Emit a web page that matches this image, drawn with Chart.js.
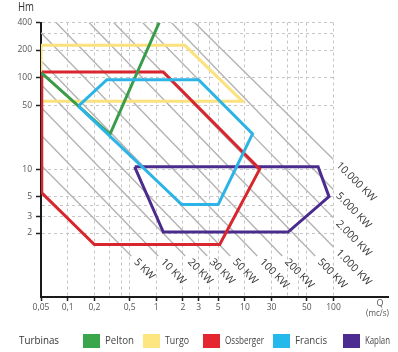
<!DOCTYPE html>
<html><head><meta charset="utf-8">
<script src="https://cdn.jsdelivr.net/npm/chart.js@4.4.1/dist/chart.umd.min.js"></script>
<style>html,body{margin:0;padding:0;background:#fff;}#wrap{position:relative;width:398px;height:352px;}</style>
</head><body><div id="wrap"><canvas id="c" width="398" height="352"></canvas></div>
<script>
// ---- data (Q in m3/s, H in m) ----
const turbineNames = ['Pelton', 'Turgo', 'Ossberger', 'Francis', 'Kaplan'];
const peltonQ = [0.051, 0.30, 1.08];
const peltonH = [112, 24, 400];
const turgoQ = [0.05, 2.1, 9.4, 0.05];
const turgoH = [225, 225, 55, 55];
const ossbergerQ = [0.051, 1.2, 14.7, 5.2, 0.2, 0.051];
const ossbergerH = [115, 115, 10, 1.5, 1.5, 5.5];
const francisQ = [0.132, 0.277, 3.0, 12.2, 5.0, 1.94];
const francisH = [48.7, 95, 95, 24.3, 4.1, 4.1];
const kaplanQ = [0.57, 1.2, 30.7, 89, 67];
const kaplanH = [10.6, 2.05, 2.05, 5.0, 10.6];

const xTickValues = [0.05, 0.1, 0.2, 0.3, 0.4, 0.5, 1, 2, 3, 4, 5, 10, 20, 30, 40, 50, 100];
const xTickLabels = ['0,05', '0,1', '0,2', '', '', '0,5', '1', '2', '3', '', '5', '10', '30', '', '', '50', '100'];
const yTickValues = [2, 3, 4, 5, 10, 50, 100, 200, 300, 400];
const yTickLabels = ['2', '3', '', '5', '10', '50', '100', '200', '', '400'];

const powerLabels = ['5 KW', '10 KW', '20 KW', '30 KW', '50 KW', '100 KW', '200 KW', '500 KW', '1.000 KW', '2.000 KW', '5.000 KW', '10.000 KW'];
const powerStartQ = [0.05, 0.05, 0.05, 0.05, 0.05, 0.05, 0.074, 0.174, 0.33, 0.70, 1.48, 2.7];
const powerStartH = [11, 23.6, 47.5, 84, 153, 310, 400, 400, 400, 400, 400, 400];
const powerEndQ = [0.522, 1.052, 2.12, 3.76, 6.83, 13.8, 26.4, 62.2, 100, 100, 100, 100];
const powerEndH = [1.12, 1.12, 1.12, 1.12, 1.12, 1.12, 1.12, 1.12, 1.41, 2.93, 5.94, 12.7];

// ---- styles ----
const turbineColors = ['#3a9c4a', '#fbe27e', '#d8262e', '#2cb4e6', '#4b2c8e'];
const legendColors = ['#3aa64c', '#fde580', '#e3262f', '#25b8ea', '#4c2c91'];
const FONT = "'Open Sans', 'DejaVu Sans', sans-serif";

function pts(qs, hs, close) {
  const a = qs.map((q, i) => ({ x: q, y: hs[i] }));
  if (close) a.push({ x: qs[0], y: hs[0] });
  return a;
}
const turbineData = [
  pts(peltonQ, peltonH, false),
  pts(turgoQ, turgoH, true),
  pts(ossbergerQ, ossbergerH, true),
  pts(francisQ, francisH, true),
  pts(kaplanQ, kaplanH, true)
];
// draw order (first = on top)
const drawOrder = [3, 0, 2, 4, 1];
const datasets = [];
drawOrder.forEach(i => {
  datasets.push({
    label: turbineNames[i], data: turbineData[i], showLine: true,
    borderColor: turbineColors[i], backgroundColor: turbineColors[i],
    borderWidth: 3, pointRadius: 0, fill: false, tension: 0,
    borderJoinStyle: 'miter', borderCapStyle: 'butt'
  });
});
powerLabels.forEach((lab, i) => {
  datasets.push({
    label: lab, data: [{ x: powerStartQ[i], y: powerStartH[i] }, { x: powerEndQ[i], y: powerEndH[i] }],
    showLine: true, borderColor: '#b3b3b3', borderWidth: 1.4, pointRadius: 0, fill: false, isPower: true
  });
});

const decor = {
  id: 'decor',
  afterDatasetsDraw(chart) {
    const ctx = chart.ctx, xs = chart.scales.x, ys = chart.scales.y;
    ctx.save();
    ctx.fillStyle = '#333';
    ctx.font = '10.5px ' + FONT;
    ctx.textAlign = 'left'; ctx.textBaseline = 'middle';
    powerLabels.forEach((lab, i) => {
      const x0 = xs.getPixelForValue(powerStartQ[i]), y0 = ys.getPixelForValue(powerStartH[i]);
      const x1 = xs.getPixelForValue(powerEndQ[i]), y1 = ys.getPixelForValue(powerEndH[i]);
      const ang = Math.atan2(y1 - y0, x1 - x0);
      ctx.save();
      ctx.translate(x1 + Math.cos(ang) * 6, y1 + Math.sin(ang) * 6);
      ctx.rotate(ang);
      ctx.fillText(lab, 0, 0);
      ctx.restore();
    });
    ctx.restore();
  },
  afterDraw(chart) {
    const ctx = chart.ctx, area = chart.chartArea;
    ctx.save();
    // x-axis extension
    ctx.strokeStyle = '#1a1a1a'; ctx.lineWidth = 2;
    ctx.beginPath(); ctx.moveTo(area.right - 1, area.bottom); ctx.lineTo(389, area.bottom); ctx.stroke();
    ctx.fillStyle = '#333';
    ctx.font = '12px ' + FONT; ctx.textAlign = 'left'; ctx.textBaseline = 'middle';
    ctx.fillText('Hm', 18, 8, 16);
    ctx.font = '9px ' + FONT; ctx.textAlign = 'center';
    ctx.fillStyle = '#555';
    ctx.fillText('Q', 380, 303.5);
    ctx.fillText('(mc/s)', 377.5, 313.5, 23);
    // legend
    ctx.fillStyle = '#333'; ctx.textAlign = 'left';
    ctx.font = '10.5px ' + FONT;
    ctx.fillText('Turbinas', 19, 341, 40);
    const itemX = [83, 143, 203, 273, 343];
    const textW = [29, 24, 39, 32, 25];
    turbineNames.forEach((n, i) => {
      ctx.fillStyle = legendColors[i];
      ctx.fillRect(itemX[i], 334, 17, 14);
      ctx.fillStyle = '#444';
      ctx.fillText(n, itemX[i] + 22, 341, textW[i]);
    });
    ctx.restore();
  }
};

new Chart(document.getElementById('c'), {
  type: 'scatter',
  data: { datasets },
  options: {
    responsive: false, animation: false, devicePixelRatio: 1,
    layout: { padding: { left: 0, right: 64.5, top: 22.5, bottom: 0 } },
    plugins: { legend: { display: false }, tooltip: { enabled: false }, title: { display: false } },
    scales: {
      x: {
        type: 'logarithmic', position: 'bottom', min: 0.05, max: 100,
        afterBuildTicks: s => { s.ticks = xTickValues.map(v => ({ value: v })); },
        afterFit: s => { s.height = 55; },
        ticks: {
          autoSkip: false, maxRotation: 0, minRotation: 0, padding: 1,
          font: { family: FONT, size: 8.5 }, color: '#555',
          callback: (v, i) => xTickLabels[i]
        },
        grid: {
          color: c => (c.index === 0 ? 'rgba(0,0,0,0)' : '#c6c6c6'), lineWidth: 1,
          tickLength: 4, tickWidth: 1.5, tickBorderDash: [],
          tickColor: c => (xTickLabels[c.index] ? '#222' : 'rgba(0,0,0,0)')
        },
        border: { display: true, color: '#1a1a1a', width: 2, dash: [3, 3] }
      },
      y: {
        type: 'logarithmic', position: 'left', min: 0.4, max: 400,
        afterBuildTicks: s => { s.ticks = yTickValues.map(v => ({ value: v })); },
        afterFit: s => { s.width = 41; },
        ticks: {
          autoSkip: false, padding: 4,
          font: { family: FONT, size: 8.5 }, color: '#555',
          callback: (v, i) => yTickLabels[i]
        },
        grid: {
          color: '#c6c6c6', lineWidth: 1,
          tickLength: 5, tickWidth: 1.5, tickBorderDash: [],
          tickColor: c => (yTickLabels[c.index] ? '#222' : 'rgba(0,0,0,0)')
        },
        border: { display: true, color: '#1a1a1a', width: 2, dash: [3, 3] }
      }
    }
  },
  plugins: [decor]
});
</script></body></html>
